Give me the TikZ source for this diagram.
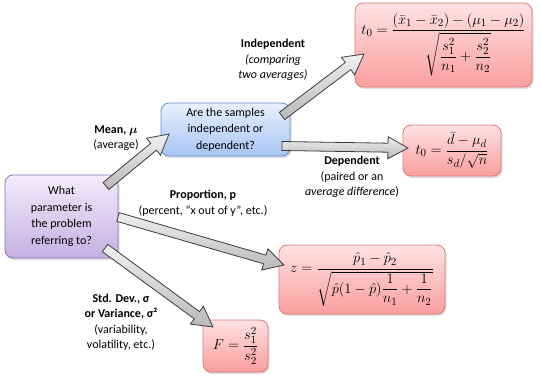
\documentclass[tikz,border=0pt]{standalone}
\usepackage{fontspec}
\setmainfont{Carlito}
\usepackage{amsmath,bm}
\usetikzlibrary{calc,shadows}
\definecolor{pinkT}{RGB}{255,226,226}
\definecolor{pinkB}{RGB}{250,158,158}
\definecolor{pinkD}{RGB}{222,120,120}
\definecolor{blueT}{RGB}{232,240,253}
\definecolor{blueB}{RGB}{168,196,245}
\definecolor{blueD}{RGB}{105,142,210}
\definecolor{purT}{RGB}{243,236,251}
\definecolor{purB}{RGB}{196,176,226}
\definecolor{purD}{RGB}{140,115,182}
\definecolor{arrT}{RGB}{240,240,240}
\definecolor{arrB}{RGB}{185,185,185}
\definecolor{arrD}{RGB}{60,60,60}
\newcommand\blockarrow[2]{%
  \path[blockarr] let \p1=($(#2)-(#1)$), \n1={atan2(\y1,\x1)}, \n2={veclen(\x1,\y1)} in
    ($(#1)+(\n1+90:4.5)$) -- ($(#1)+(\n1:\n2-20)+(\n1+90:4.5)$) --
    ($(#1)+(\n1:\n2-20)+(\n1+90:11)$) -- (#2) --
    ($(#1)+(\n1:\n2-20)+(\n1-90:11)$) -- ($(#1)+(\n1:\n2-20)+(\n1-90:4.5)$) --
    ($(#1)+(\n1-90:4.5)$) -- cycle;}
\begin{document}
\begin{tikzpicture}[x=1pt,y=1pt,
  every node/.style={font=\fontsize{12}{15.5}\selectfont},
  box/.style={rounded corners=8pt, align=center, inner sep=2pt, line width=0.8pt,
    drop shadow={opacity=0.25,shadow xshift=1.5pt,shadow yshift=-2pt}},
  pinkbox/.style={box, draw=pinkD, top color=pinkT, bottom color=pinkB,
    font=\fontsize{15}{18}\selectfont},
  bluebox/.style={box, draw=blueD, top color=blueT, bottom color=blueB,
    font=\fontsize{12}{16.5}\selectfont},
  purbox/.style={box, draw=purD, top color=purT, bottom color=purB,
    font=\fontsize{12}{16.5}\selectfont},
  lbl/.style={align=center, inner sep=1pt},
  blockarr/.style={draw=arrD, line width=0.8pt, top color=arrT, bottom color=arrB, line join=miter}]
\useasboundingbox (0,0) rectangle (541,-381);
\fill[white] (0,0) rectangle (541,-381);

\node[purbox, minimum width=113, minimum height=83] (param) at (61.5,-216.5)
  {What\\parameter is\\the problem\\referring to?};
\node[bluebox, minimum width=129, minimum height=53] (samples) at (225.5,-129.5)
  {Are the samples\\independent or\\dependent?};
\node[pinkbox, minimum width=177, minimum height=84] (tind) at (443.5,-45)
  {$\displaystyle t_0=\frac{(\bar{x}_1-\bar{x}_2)-(\mu_1-\mu_2)}{\sqrt{\dfrac{s_1^2}{n_1}+\dfrac{s_2^2}{n_2}}}$};
\node[pinkbox, minimum width=98, minimum height=51] (tdep) at (452,-150.5)
  {$\displaystyle t_0=\frac{\bar{d}-\mu_d}{s_d/\sqrt{n}}$};
\node[pinkbox, minimum width=166, minimum height=69] (zprop) at (362,-279.5)
  {$\displaystyle z=\frac{\hat{p}_1-\hat{p}_2}{\sqrt{\hat{p}(1-\hat{p})\dfrac{1}{n_1}+\dfrac{1}{n_2}}}$};
\node[pinkbox, minimum width=65, minimum height=52] (fvar) at (235.5,-346)
  {$\displaystyle F=\frac{s_1^2}{s_2^2}$};

\node[lbl] (lmean) at (116,-138) {\textbf{Mean, $\bm{\mu}$}\\(average)};
\node[lbl] (lind) at (273,-60) {\textbf{Independent}\\\textit{(comparing}\\\textit{two averages)}};
\node[lbl] (ldep) at (352,-177) {\textbf{Dependent}\\(paired or an\\\textit{average difference})};
\node[lbl] (lprop) at (203,-203) {\textbf{Proportion, p}\\(percent, “x out of y”, etc.)};
\node[lbl] (lstd) at (121,-322) {\textbf{Std. Dev., σ}\\\textbf{or Variance, σ²}\\(variability,\\volatility, etc.)};

\coordinate (a1s) at (106,-186); \coordinate (a1e) at (169,-134);
\coordinate (a2s) at (282,-116); \coordinate (a2e) at (364,-54);
\coordinate (a3s) at (282,-146); \coordinate (a3e) at (408,-148);
\coordinate (a4s) at (118,-217); \coordinate (a4e) at (284,-265);
\coordinate (a5s) at (105,-248); \coordinate (a5e) at (213,-327);
\blockarrow{a1s}{a1e}
\blockarrow{a2s}{a2e}
\blockarrow{a3s}{a3e}
\blockarrow{a4s}{a4e}
\blockarrow{a5s}{a5e}
\end{tikzpicture}
\end{document}
